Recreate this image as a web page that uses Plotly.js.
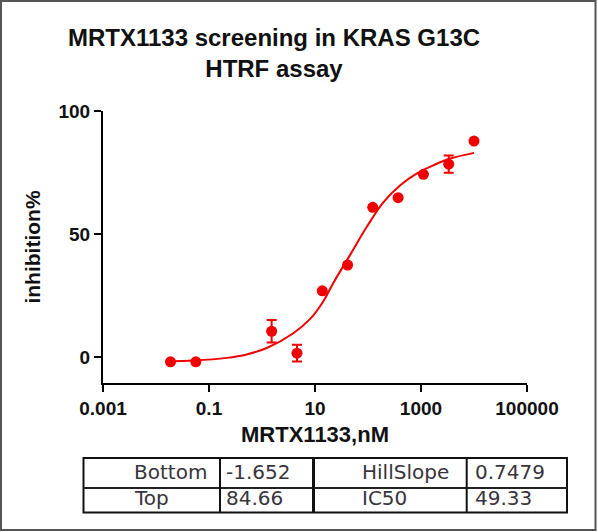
<!DOCTYPE html>
<html>
<head>
<meta charset="utf-8">
<script src="https://cdn.plot.ly/plotly-3.0.1.min.js"></script>
<style>
  html, body { margin: 0; padding: 0; background: #fff; }
  #chart { width: 598px; height: 532px; }
</style>
</head>
<body>
<div id="chart"></div>
<script>
// ---- Data ----
const chartTitle = "MRTX1133 screening in KRAS G13C<br>HTRF assay";
const xAxisTitle = "MRTX1133,nM";
const yAxisTitle = "inhibition%";

const concentration = [0.0188, 0.0565, 1.52, 4.57, 13.7, 41.2, 123, 370, 1111, 3333, 10000];
const inhibition    = [-1.8, -1.8, 10.6, 1.7, 27.0, 37.5, 60.9, 64.8, 74.3, 78.4, 87.8];
const errorSD       = [null, null, 4.6, 3.4, null, null, null, null, null, 3.5, null];

// fitted curve
const fitConc       = [0.0188, 0.05, 0.215, 0.514, 1.23, 3.9, 8.1, 14.4, 22.3, 46, 95, 196, 406, 840, 1730, 3580, 10000];
const fitInhibition = [-1.6, -1.3, -0.2, 1.2, 3.8, 9.8, 15.6, 22.8, 30.3, 41.6, 53.0, 63.0, 69.9, 74.7, 78.0, 80.7, 83.0];

const xTickVals = [0.001, 0.1, 10, 1000, 100000];
const xTickText = ["0.001", "0.1", "10", "1000", "100000"];
const yTickVals = [0, 50, 100];
const yTickText = ["0", "50", "100"];

const paramNamesLeft   = ["Bottom", "Top"];
const paramValuesLeft  = ["-1.652", "84.66"];
const paramNamesRight  = ["HillSlope", "IC50"];
const paramValuesRight = ["0.7479", "49.33"];

// ---- Layout helpers (pixel -> paper) ----
const W = 598, H = 532;
const M = { l: 103, r: 71, t: 111, b: 149 };
const PW = W - M.l - M.r, PH = H - M.t - M.b;
const px = v => (v - M.l) / PW;
const py = v => (H - M.b - v) / PH;

const RED = "#f00000";
const AX_FONT = "Liberation Sans, Arial, sans-serif";
const TABLE_FONT = "DejaVu Sans, sans-serif";

const traces = [
  {
    x: fitConc, y: fitInhibition,
    type: "scatter", mode: "lines",
    line: { color: RED, width: 2, shape: "spline", smoothing: 1 },
    hoverinfo: "skip", showlegend: false
  },
  {
    x: concentration, y: inhibition,
    type: "scatter", mode: "markers",
    marker: { color: RED, size: 11, symbol: "circle" },
    error_y: { type: "data", array: errorSD, visible: true, color: RED, thickness: 2, width: 5 },
    showlegend: false
  }
];

// table geometry
const tL = 83.5, tR = 567, tT = 458, tM = 488, tB = 512.5;
const colDiv = [220, 313.5, 466.7];
const colDivW = [2, 3, 2];
const colTextX = [132, 224, 360, 473];
const rowTextY = [471.5, 498];

const shapes = [
  // outer image frame
  { type: "rect", xref: "paper", yref: "paper", x0: px(1), x1: px(595.5), y0: py(1), y1: py(530),
    line: { color: "#555", width: 2 }, fillcolor: "rgba(0,0,0,0)", layer: "below" },
  // table box
  { type: "rect", xref: "paper", yref: "paper", x0: px(tL), x1: px(tR), y0: py(tT), y1: py(tB),
    line: { color: "#111", width: 2 }, fillcolor: "rgba(0,0,0,0)" },
  { type: "line", xref: "paper", yref: "paper", x0: px(tL), x1: px(tR), y0: py(tM), y1: py(tM),
    line: { color: "#222", width: 2 } }
];
colDiv.forEach((c, i) => shapes.push({
  type: "line", xref: "paper", yref: "paper", x0: px(c), x1: px(c), y0: py(tT), y1: py(tB),
  line: { color: "#111", width: colDivW[i] }
}));

const annotations = [];
const cols = [paramNamesLeft, paramValuesLeft, paramNamesRight, paramValuesRight];
cols.forEach((col, ci) => col.forEach((txt, ri) => annotations.push({
  xref: "paper", yref: "paper", x: px(colTextX[ci]), y: py(rowTextY[ri]),
  xanchor: "left", yanchor: "middle", showarrow: false, text: txt,
  font: { family: TABLE_FONT, size: 20, color: "#38343c" }
})));

const layout = {
  width: W, height: H,
  margin: M,
  paper_bgcolor: "#fff", plot_bgcolor: "#fff",
  showlegend: false,
  title: {
    text: chartTitle,
    x: 274 / W, xref: "container", xanchor: "center",
    y: 1 - 46 / H, yref: "container", yanchor: "top",
    font: { family: AX_FONT, size: 24, color: "#111", weight: "bold" }
  },
  xaxis: {
    type: "log", range: [-3, 5],
    tickmode: "array", tickvals: xTickVals, ticktext: xTickText,
    showgrid: false, zeroline: false,
    showline: true, linecolor: "#000", linewidth: 2,
    ticks: "outside", ticklen: 7, tickwidth: 2, tickcolor: "#000",
    tickfont: { family: AX_FONT, size: 19, color: "#111", weight: "bold" },
    title: { text: xAxisTitle, standoff: 9,
      font: { family: AX_FONT, size: 22, color: "#111", weight: "bold" } }
  },
  yaxis: {
    range: [-10.4, 100],
    tickmode: "array", tickvals: yTickVals, ticktext: yTickText,
    showgrid: false, zeroline: false,
    showline: true, linecolor: "#000", linewidth: 2,
    ticks: "outside", ticklen: 7, tickwidth: 2, tickcolor: "#000",
    tickfont: { family: AX_FONT, size: 19, color: "#111", weight: "bold" },
    title: { text: yAxisTitle, standoff: 12,
      font: { family: AX_FONT, size: 21, color: "#111", weight: "bold" } }
  },
  shapes: shapes,
  annotations: annotations
};

Plotly.newPlot("chart", traces, layout, { staticPlot: true, displayModeBar: false });
</script>
</body>
</html>
